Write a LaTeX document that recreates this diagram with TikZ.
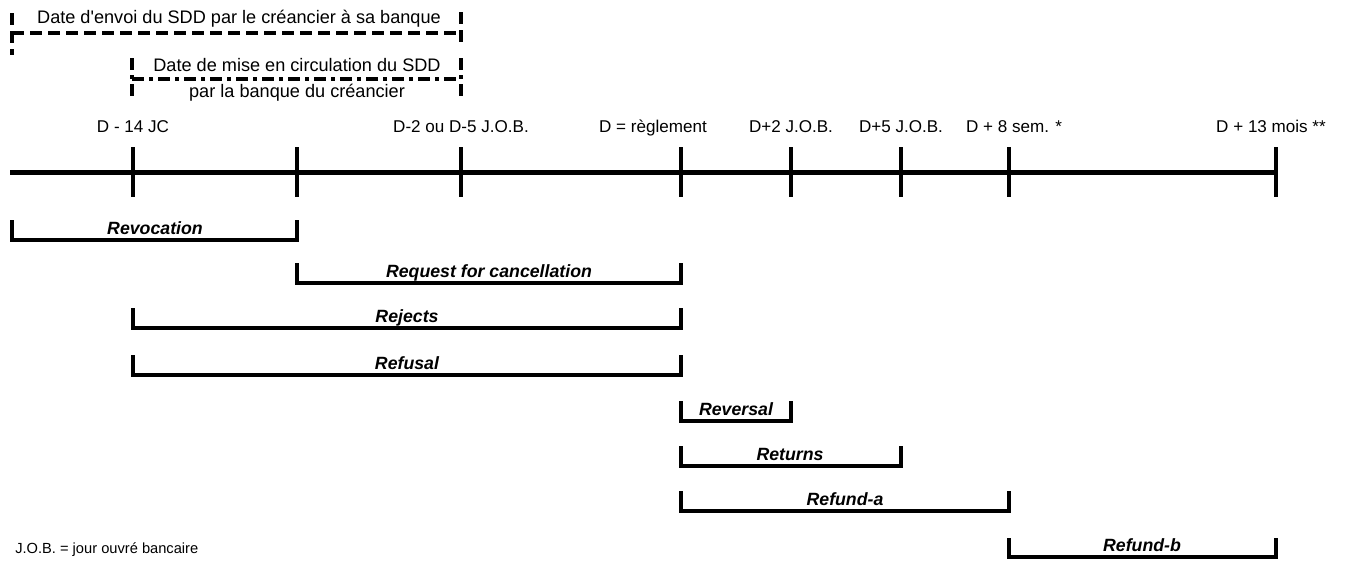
\documentclass[tikz,border=0pt]{standalone}
\usepackage{fontspec}
\setmainfont{Liberation Sans}
\begin{document}
\begin{tikzpicture}[x=0.75pt,y=-0.75pt,
  axisline/.style={line width=3.75pt},
  tickline/.style={line width=3.2pt},
  brk/.style={line width=2.5pt, line join=miter},
  dsh/.style={line width=2.4pt, dash pattern=on 9pt off 4.5pt},
  dshdot/.style={line width=2.4pt, dash pattern=on 9pt off 3.75pt on 3pt off 3.75pt},
  txt/.style={font=\fontsize{13.6}{16}\selectfont, inner sep=0pt, anchor=base},
  ticklbl/.style={font=\fontsize{12.8}{15}\selectfont, inner sep=0pt, anchor=base},
  blbl/.style={font=\fontsize{13.3}{16}\selectfont\bfseries\itshape, inner sep=0pt, anchor=base}]
\useasboundingbox (0,0) rectangle (1348,565);

% top dashed brackets
\draw[dsh] (12,13) -- (12,55);
\draw[dsh] (461,12) -- (461,48);
\draw[dsh] (12,33) -- (461,33);
\node[txt] (t1) at (239,23) {Date d\textquotesingle envoi du SDD par le créancier à sa banque};

\draw[dshdot] (132,58) -- (132,100);
\draw[dshdot] (461,58) -- (461,100);
\draw[dshdot] (132,79) -- (461,79);
\node[txt] (t2) at (297,71) {Date de mise en circulation du SDD};
\node[txt] (t3) at (297,97) {par la banque du créancier};

% axis
\coordinate (a0) at (10,172);
\coordinate (a1) at (1278,172);
\draw[axisline] (a0) -- (a1);
\foreach \x in {133,297,461,681,791,901,1009,1276}{
  \draw[tickline] (\x,147) -- (\x,197);
}
\node[ticklbl] (l1) at (133,132) {D - 14 JC};
\node[ticklbl] (l2) at (461,132) {D-2 ou D-5 J.O.B.};
\node[ticklbl] (l3) at (653,132) {D = règlement};
\node[ticklbl] (l4) at (791,132) {D+2 J.O.B.};
\node[ticklbl] (l5) at (901,132) {D+5 J.O.B.};
\node[ticklbl] (l6) at (1014,132) {D + 8 sem. *};
\node[ticklbl] (l7) at (1271,132) {D + 13 mois **};

% brackets
\draw[brk] (12,220) -- (12,240) -- (297,240) -- (297,220);
\node[blbl] (b1) at (155,234) {Revocation};
\draw[brk] (297,263) -- (297,283) -- (681,283) -- (681,263);
\node[blbl] (b2) at (489,277) {Request for cancellation};
\draw[brk] (133,308) -- (133,328) -- (681,328) -- (681,308);
\node[blbl] (b3) at (407,322) {Rejects};
\draw[brk] (133,355) -- (133,375) -- (681,375) -- (681,355);
\node[blbl] (b4) at (407,369) {Refusal};
\draw[brk] (681,401) -- (681,421) -- (791,421) -- (791,401);
\node[blbl] (b5) at (736,415) {Reversal};
\draw[brk] (681,446) -- (681,466) -- (901,466) -- (901,446);
\node[blbl] (b6) at (790,460) {Returns};
\draw[brk] (681,491) -- (681,511) -- (1009,511) -- (1009,491);
\node[blbl] (b7) at (845,505) {Refund-a};
\draw[brk] (1009,538) -- (1009,557) -- (1276,557) -- (1276,538);
\node[blbl] (b8) at (1142,551) {Refund-b};

\node[font=\fontsize{11}{13}\selectfont, inner sep=0pt, anchor=base west] (note) at (15,553) {J.O.B. = jour ouvré bancaire};
\end{tikzpicture}
\end{document}
